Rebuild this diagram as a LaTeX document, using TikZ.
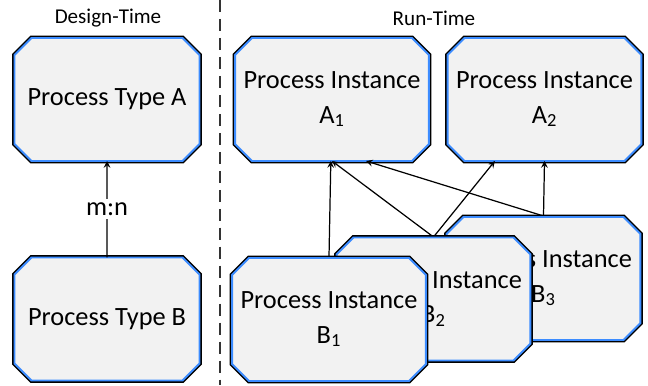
\documentclass[tikz,border=0pt]{standalone}
\usepackage{fontspec}
\setmainfont{Carlito}
\usetikzlibrary{shapes.misc}
\definecolor{boxfill}{HTML}{F2F2F2}
\definecolor{boxblue}{HTML}{3C8CFF}
\begin{document}
\begin{tikzpicture}[>=stealth,
    proc/.style={chamfered rectangle, chamfered rectangle xsep=0.17cm,
      chamfered rectangle ysep=0.17cm, minimum width=3.70cm, minimum height=2.46cm,
      inner sep=0pt, outer sep=0pt, fill=boxfill, draw=boxblue, line width=1.1pt,
      preaction={draw=black, line width=2.7pt}, align=center,
      font=\fontsize{15}{19.5}\selectfont},
    title/.style={font=\fontsize{12}{14}\selectfont},
    link/.style={->, line width=0.7pt}]
  \useasboundingbox (0, 0) rectangle (12.96, 7.70);
  \node[title] (design) at (2.16, 7.34) {Design-Time};
  \node[title] (run) at (8.68, 7.34) {Run-Time};
  \coordinate (top) at (4.40, 7.70);
  \coordinate (bottom) at (4.40, 0);
  \draw[black!80, line width=0.7pt, dash pattern=on 6.8pt off 4pt] (top) -- (bottom);
  % design time
  \node[proc] (TA) at (2.14, 5.71) {Process Type A};
  \node[proc] (TB) at (2.14, 1.32) {Process Type B};
  \draw[link] (TB) -- node[fill=white, inner sep=2pt, font=\fontsize{15}{17}\selectfont] (mn) {m:n} (TA);
  % run time
  \node[proc] (A1) at (6.64, 5.71) {Process Instance\\A\textsubscript{1}};
  \node[proc] (A2) at (10.89, 5.71) {Process Instance\\A\textsubscript{2}};
  \coordinate (B1top) at (6.58, 2.56);
  \coordinate (B2top) at (8.67, 2.96);
  \coordinate (B3top) at (10.87, 3.38);
  \draw[link] (B1top) -- (A1);
  \draw[link] (B2top) -- (A1.south);
  \draw[link] (B2top) -- (A2);
  \draw[link] (B3top) -- ([xshift=0.68cm]A1.south);
  \draw[link] (B3top) -- (A2.south);
  \node[proc] (B3) at (10.87, 2.13) {Process Instance\\B\textsubscript{3}};
  \node[proc] (B2) at (8.67, 1.72) {Process Instance\\B\textsubscript{2}};
  \node[proc] (B1) at (6.58, 1.31) {Process Instance\\B\textsubscript{1}};
\end{tikzpicture}
\end{document}
